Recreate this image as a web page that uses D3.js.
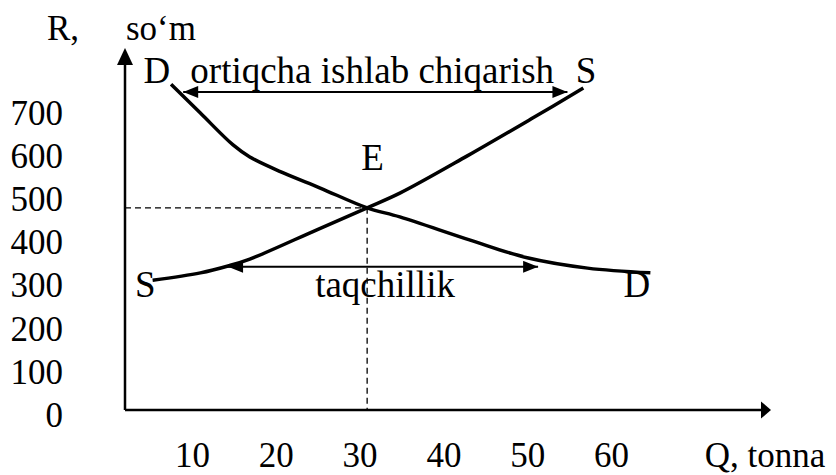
<!DOCTYPE html>
<html>
<head>
<meta charset="utf-8">
<script src="https://cdn.jsdelivr.net/npm/d3@7"></script>
<style>
  body { margin: 0; background: #fff; }
  svg text { font-family: "Liberation Serif", "Times New Roman", serif; fill: #000; }
</style>
</head>
<body>
<script>
// Tick labels.
const xTicks = [10, 20, 30, 40, 50, 60];
const yTicks = [0, 100, 200, 300, 400, 500, 600, 700];

// Demand curve D (Q in tonna, R in so'm).
const demandQ = [7.5, 11.0, 14.9, 16.9, 20.9, 25.3, 30.9, 34.8, 43.2, 50.0, 57.2, 64.7];
const demandP = [768, 701, 627, 599, 562, 527, 481, 460, 406, 365, 341, 330];

// Supply curve S.
const supplyQ = [5.3, 11.0, 14.3, 16.9, 24.9, 30.9, 34.8, 42.8, 50.7, 56.7];
const supplyP = [313, 330, 346, 362, 430, 481, 515, 601, 690, 759];

// Equilibrium point E.
const eqQ = 30.9;
const eqP = 481;

// Double arrows: surplus (top) and shortage (bottom).
const surplusQ = [8.95, 54.8];
const surplusP = 750;
const shortageQ = [14.3, 51.3];
const shortageP = 344;

// Curve / area labels.
const labelText = ['D', 'ortiqcha ishlab chiqarish', 'S', 'E', 'S', 'taqchillik', 'D'];
const labelQ = [4.2, 9.8, 55.8, 30.2, 3.2, 24.7, 61.5];
const labelP = [771, 771, 771, 569, 274, 274, 274];

// Sizes.
const pallette = {width: 836, height: 475};
const origin = {x: 125, y: 410};
const axisEnd = {x: 771, y: 48};
const fontSize = 35;
const labelSize = 37;

// Scales.
const xScale = d3.scaleLinear().domain([10, 60]).range([192, 611]);
const yScale = d3.scaleLinear().domain([0, 700]).range([415, 113.5]);

const svg = d3.select('body')
  .append('svg')
  .attr('width', pallette.width)
  .attr('height', pallette.height);

svg.append('rect')
  .attr('width', pallette.width)
  .attr('height', pallette.height)
  .attr('fill', '#fff');

// Arrow markers for the double arrows.
const defs = svg.append('defs');
['start', 'end'].forEach((kind) =>
  {
    defs.append('marker')
      .attr('id', 'arrow-' + kind)
      .attr('markerUnits', 'userSpaceOnUse')
      .attr('markerWidth', 16)
      .attr('markerHeight', 14)
      .attr('refX', kind === 'end' ? 15 : 0)
      .attr('refY', 6)
      .attr('orient', 'auto')
      .append('path')
      .attr('d', kind === 'end' ? 'M0,0 L15,6 L0,12 Z' : 'M15,0 L0,6 L15,12 Z')
      .attr('fill', '#000');
  });

// Axis lines with arrow heads.
svg.append('line')
  .attr('x1', origin.x).attr('y1', origin.y)
  .attr('x2', origin.x).attr('y2', axisEnd.y + 14)
  .attr('stroke', '#000')
  .attr('stroke-width', 2.5);
svg.append('path')
  .attr('d', 'M' + origin.x + ',' + axisEnd.y + ' L' + (origin.x - 8) + ',' + (axisEnd.y + 17) + ' L' + (origin.x + 8) + ',' + (axisEnd.y + 17) + ' Z')
  .attr('fill', '#000');

svg.append('line')
  .attr('x1', origin.x).attr('y1', origin.y)
  .attr('x2', axisEnd.x - 8).attr('y2', origin.y)
  .attr('stroke', '#000')
  .attr('stroke-width', 2.5);
svg.append('path')
  .attr('d', 'M' + axisEnd.x + ',' + origin.y + ' L' + (axisEnd.x - 10) + ',' + (origin.y - 8.5) + ' L' + (axisEnd.x - 10) + ',' + (origin.y + 8.5) + ' Z')
  .attr('fill', '#000');

// Tick labels through d3 axes (no lines).
const yAxis = d3.axisLeft(yScale)
  .tickValues(yTicks)
  .tickSize(0)
  .tickPadding(0);
const yAxisG = svg.append('g')
  .attr('id', 'y-axis')
  .attr('transform', 'translate(63,0)')
  .call(yAxis);

const xAxis = d3.axisBottom(xScale)
  .tickValues(xTicks)
  .tickSize(0)
  .tickPadding(0);
const xAxisG = svg.append('g')
  .attr('id', 'x-axis')
  .attr('transform', 'translate(0,442)')
  .call(xAxis);

[yAxisG, xAxisG].forEach((g) =>
  {
    g.select('.domain').remove();
    g.selectAll('text')
      .style('font-size', fontSize + 'px')
      .attr('fill', '#000');
    g.attr('font-family', null).attr('font-size', null);
  });

// Axis titles.
xAxisG.append('text')
  .attr('x', xScale(71.2))
  .attr('dy', '0.71em')
  .attr('text-anchor', 'start')
  .style('font-size', fontSize + 'px')
  .text('Q, tonna');

svg.append('text')
  .attr('x', 47)
  .attr('y', 40)
  .style('font-size', fontSize + 'px')
  .text('R,');
svg.append('text')
  .attr('x', 126)
  .attr('y', 40)
  .style('font-size', fontSize + 'px')
  .text('so\u2018m');

// Dashed guides to E.
svg.append('line')
  .attr('x1', origin.x).attr('y1', yScale(eqP))
  .attr('x2', xScale(eqQ)).attr('y2', yScale(eqP))
  .attr('stroke', '#000')
  .attr('stroke-width', 1.3)
  .attr('stroke-dasharray', '6,4');
svg.append('line')
  .attr('x1', xScale(eqQ)).attr('y1', yScale(eqP))
  .attr('x2', xScale(eqQ)).attr('y2', origin.y)
  .attr('stroke', '#000')
  .attr('stroke-width', 1.3)
  .attr('stroke-dasharray', '6,4');

// Curves.
const line = d3.line()
  .x((d) => xScale(d[0]))
  .y((d) => yScale(d[1]))
  .curve(d3.curveCatmullRom.alpha(0.5));

svg.append('path')
  .datum(d3.zip(demandQ, demandP))
  .attr('d', line)
  .attr('fill', 'none')
  .attr('stroke', '#000')
  .attr('stroke-width', 3.5);

svg.append('path')
  .datum(d3.zip(supplyQ, supplyP))
  .attr('d', line)
  .attr('fill', 'none')
  .attr('stroke', '#000')
  .attr('stroke-width', 3.5);

// Double arrows.
[[surplusQ, surplusP], [shortageQ, shortageP]].forEach(([qs, p]) =>
  {
    svg.append('line')
      .attr('x1', xScale(qs[0])).attr('y1', yScale(p))
      .attr('x2', xScale(qs[1])).attr('y2', yScale(p))
      .attr('stroke', '#000')
      .attr('stroke-width', 2)
      .attr('marker-start', 'url(#arrow-start)')
      .attr('marker-end', 'url(#arrow-end)');
  });

// Labels.
svg.selectAll('text.label')
  .data(d3.range(labelText.length))
  .enter()
  .append('text')
  .attr('class', 'label')
  .attr('x', (i) => xScale(labelQ[i]))
  .attr('y', (i) => yScale(labelP[i]))
  .style('font-size', labelSize + 'px')
  .text((i) => labelText[i]);
</script>
</body>
</html>
